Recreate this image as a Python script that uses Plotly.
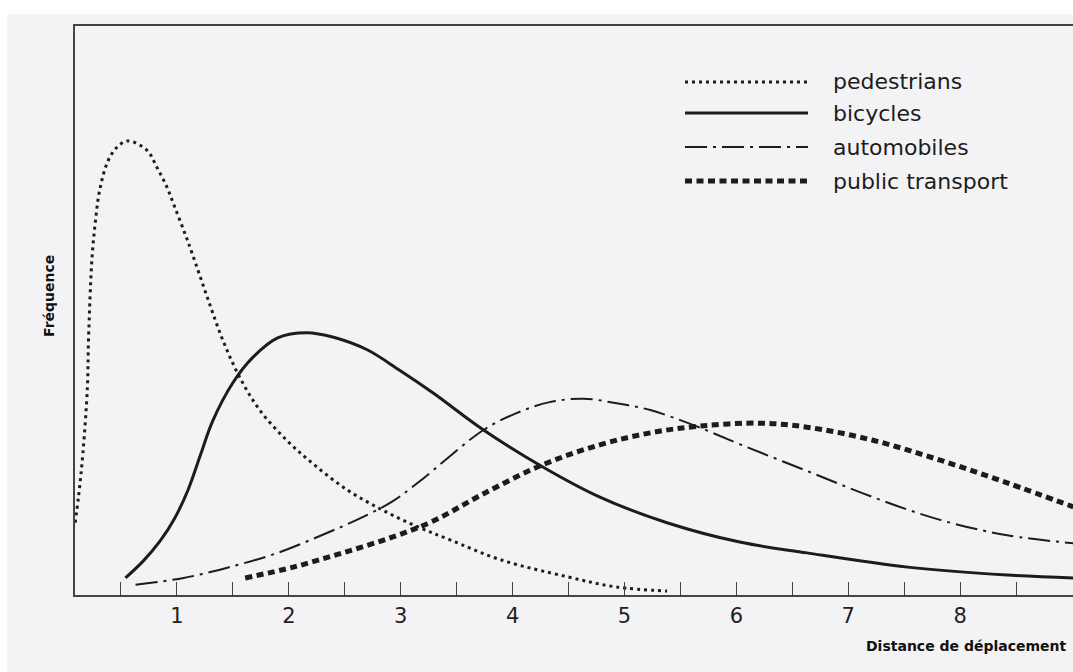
import plotly.graph_objects as go

# ---------------- data ----------------
series_names = ["pedestrians", "bicycles", "automobiles", "public transport"]

ped_x = [0.09, 0.12, 0.16, 0.20, 0.21, 0.24, 0.27, 0.31, 0.38, 0.46, 0.56,
         0.73, 0.82, 0.91, 0.98, 1.07, 1.14, 1.27, 1.41, 1.56, 1.74, 1.98, 2.22,
         2.52, 2.84, 3.15, 3.44, 3.89, 4.49, 4.93, 5.38]
ped_y = [12.7, 17.2, 25.0, 36.6, 45.0, 58.9, 65.4, 71.2, 76.1, 78.6, 79.8,
         78.2, 75.2, 71.7, 68.2, 63.6, 59.8, 52.4, 44.8, 38.3, 32.5, 27.2, 23.0,
         18.5, 14.9, 12.0, 9.7, 6.2, 3.2, 1.4, 0.7]

bic_x = [0.54, 0.70, 0.85, 0.98, 1.10, 1.21, 1.32, 1.50, 1.68, 1.90, 2.16, 2.40,
         2.70, 2.99, 3.29, 3.74, 4.27, 4.78, 5.38, 6.03, 6.63, 7.53, 8.42, 9.01]
bic_y = [3.0, 6.0, 9.5, 13.5, 18.5, 24.6, 30.6, 37.3, 41.8, 45.2, 46.1, 45.3,
         43.1, 39.5, 35.5, 29.0, 22.5, 17.2, 12.7, 9.3, 7.4, 4.9, 3.5, 3.0]

auto_x = [0.63, 1.06, 1.45, 1.90, 2.34, 2.64, 2.93, 3.17, 3.74, 4.04, 4.33,
          4.63, 4.93, 5.23, 5.61, 6.03, 6.63, 7.22, 7.82, 8.42, 9.01]
auto_y = [1.8, 3.0, 4.8, 7.4, 10.9, 13.5, 16.5, 20.0, 29.0, 32.0, 33.9,
          34.5, 33.7, 32.5, 29.9, 26.5, 21.8, 17.2, 13.2, 10.5, 9.1]

pt_x = [1.61, 2.04, 2.48, 2.93, 3.29, 3.74, 4.27, 4.78, 5.23, 5.68, 6.21,
        6.63, 7.22, 7.82, 8.42, 9.01]
pt_y = [3.0, 4.9, 7.4, 10.2, 13.0, 17.8, 22.9, 26.4, 28.5, 29.7, 30.2,
        29.5, 27.2, 23.7, 19.7, 15.5]

tick_vals = [0.5, 1, 1.5, 2, 2.5, 3, 3.5, 4, 4.5, 5, 5.5, 6, 6.5, 7, 7.5, 8, 8.5]
tick_text = ["", "1", "", "2", "", "3", "", "4", "", "5", "", "6", "", "7", "", "8", ""]

x_title = "Distance de déplacement"
y_title = "Fréquence"

# ---------------- styling ----------------
W, H = 1073, 672
ML, MR, MT, MB = 75, 0, 26, 77
PW, PH = W - ML - MR, H - MT - MB
INK = "#1c1c1c"
BG = "#f3f3f5"
FONT = "DejaVu Sans"

styles = [
    dict(width=3, dash="3px,4px"),
    dict(width=3, dash="solid"),
    dict(width=2, dash="22px,6px,3px,6px"),
    dict(width=5, dash="7px,4.5px"),
]

def px_x(p):
    return (p - ML) / PW

def px_y(p):
    return (H - MB - p) / PH

fig = go.Figure()
for name, xs, ys, st in zip(series_names, [ped_x, bic_x, auto_x, pt_x],
                            [ped_y, bic_y, auto_y, pt_y], styles):
    fig.add_trace(go.Scatter(
        x=xs, y=ys, mode="lines", name=name, showlegend=False,
        line=dict(color=INK, width=st["width"], dash=st["dash"],
                  shape="spline", smoothing=1.0),
    ))

shapes = [
    # white scan border (top and left)
    dict(type="rect", xref="paper", yref="paper", x0=px_x(0), x1=px_x(W),
         y0=px_y(14), y1=px_y(0), fillcolor="white", line=dict(width=0), layer="below"),
    dict(type="rect", xref="paper", yref="paper", x0=px_x(0), x1=px_x(7),
         y0=px_y(H), y1=px_y(0), fillcolor="white", line=dict(width=0), layer="below"),
]
annotations = []
legend_rows = [82, 113, 147, 181]
for name, st, row in zip(series_names, styles, legend_rows):
    shapes.append(dict(type="line", xref="paper", yref="paper",
                       x0=px_x(685), x1=px_x(808), y0=px_y(row), y1=px_y(row),
                       line=dict(color=INK, width=st["width"], dash=st["dash"])))
    annotations.append(dict(xref="paper", yref="paper", x=px_x(831), y=px_y(row),
                            text=name, showarrow=False, xanchor="left", yanchor="middle",
                            font=dict(family=FONT, size=22, color=INK)))

annotations.append(dict(xref="paper", yref="paper", x=px_x(1069), y=px_y(646),
                        text="<b>" + x_title + "</b>", showarrow=False,
                        xanchor="right", yanchor="middle",
                        font=dict(family=FONT, size=14, color="#111")))
annotations.append(dict(xref="paper", yref="paper", x=px_x(49), y=px_y(296),
                        text="<b>" + y_title + "</b>", showarrow=False, textangle=-90,
                        xanchor="center", yanchor="middle",
                        font=dict(family=FONT, size=14, color="#111")))

fig.update_layout(
    width=W, height=H,
    margin=dict(l=ML, r=MR, t=MT, b=MB, pad=0),
    paper_bgcolor=BG, plot_bgcolor=BG,
    shapes=shapes, annotations=annotations,
    xaxis=dict(range=[0.089, 9.008], showgrid=False, zeroline=False,
               showline=True, linecolor="#444", linewidth=1.5, mirror=True,
               tickvals=tick_vals, ticktext=tick_text, ticks="inside", ticklen=13,
               tickcolor="#444", tickwidth=1.3, ticklabelstandoff=1,
               tickfont=dict(family=FONT, size=21, color="#222")),
    yaxis=dict(range=[0, 100], showgrid=False, zeroline=False, showticklabels=False,
               showline=True, linecolor="#444", linewidth=1.5, ticks=""),
)

fig.write_html("out.html", config={"displayModeBar": False},
               post_script="document.body.style.margin='0';document.body.style.overflow='hidden';")
